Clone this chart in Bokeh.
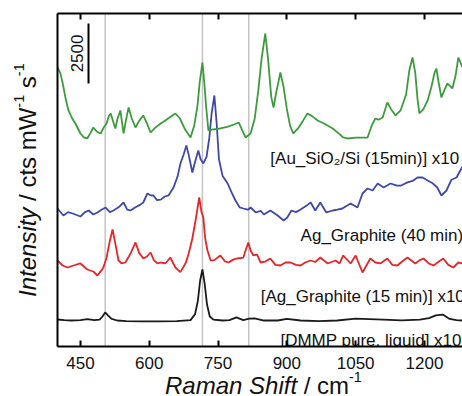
import math
from bokeh.plotting import figure
from bokeh.models import Range1d, LinearAxis, FixedTicker, Label, Div
from bokeh.layouts import row, column
from bokeh.core.properties import value
from bokeh.embed import file_html
from bokeh.resources import INLINE

FONT = "Liberation Sans"

x_ticks = [450, 600, 750, 900, 1050, 1200]
ref_lines = [504, 716, 817]
scale_value = 2500

dmmp_x = [400, 415, 430, 450, 465, 480, 492, 498, 504, 510, 518, 530, 550, 580, 620, 660, 690, 700, 706, 711, 716, 721, 726, 732, 740, 760, 775, 790, 805, 818, 830, 850, 880, 900, 930, 970, 1010, 1050, 1080, 1110, 1150, 1190, 1210, 1225, 1240, 1255, 1270, 1283]
dmmp_y = [1125, 1100, 1083, 1100, 1140, 1100, 1120, 1250, 1417, 1300, 1150, 1083, 1060, 1050, 1050, 1060, 1100, 1350, 1900, 2750, 3209, 2600, 1750, 1250, 1120, 1083, 1100, 1210, 1100, 1160, 1170, 1083, 1083, 1150, 1083, 1060, 1083, 1160, 1140, 1120, 1090, 1120, 1180, 1300, 1330, 1150, 1100, 1083]

ag15_x = [400, 411, 422, 435, 450, 465, 478, 487, 495, 500, 507, 513, 520, 526, 533, 540, 548, 560, 570, 578, 587, 595, 603, 610, 618, 625, 635, 646, 657, 668, 680, 686, 694, 701, 709, 714, 718, 722, 727, 734, 742, 755, 765, 773, 783, 792, 805, 810, 816, 821, 827, 835, 843, 853, 864, 875, 886, 897, 908, 920, 930, 940, 952, 962, 973, 989, 1006, 1015, 1023, 1039, 1050, 1065, 1082, 1093, 1104, 1119, 1130, 1141, 1152, 1163, 1180, 1190, 1198, 1210, 1220, 1230, 1241, 1252, 1263, 1274, 1283]
ag15_y = [3584, 3375, 3292, 3375, 3459, 3209, 3125, 2959, 3150, 3292, 3700, 4300, 4875, 4300, 3584, 3459, 3500, 3900, 4334, 3900, 3667, 3750, 3917, 3600, 3459, 3500, 3459, 3709, 3292, 3100, 3500, 3875, 4500, 5250, 6209, 5600, 5375, 4500, 4000, 3584, 3600, 3792, 3550, 3500, 3620, 3667, 3700, 4000, 4334, 4000, 3792, 3830, 3500, 3540, 3667, 3400, 3375, 3500, 3500, 3400, 3375, 3500, 3584, 3520, 3709, 3459, 3584, 3460, 3792, 3459, 3792, 3084, 3667, 3500, 3459, 3667, 3400, 3375, 3550, 3709, 3459, 3600, 3667, 3450, 3375, 3520, 3667, 3400, 3292, 3500, 3459]

ag40_x = [400, 413, 423, 433, 450, 460, 468, 478, 487, 496, 505, 514, 522, 533, 544, 552, 559, 570, 580, 587, 596, 603, 609, 617, 625, 634, 642, 653, 662, 668, 675, 681, 687, 694, 700, 707, 712, 718, 725, 731, 736, 742, 747, 752, 760, 771, 780, 788, 797, 805, 815, 821, 832, 843, 850, 864, 880, 893, 901, 910, 920, 930, 945, 952, 962, 973, 986, 1000, 1010, 1021, 1039, 1054, 1065, 1076, 1087, 1098, 1111, 1126, 1140, 1148, 1163, 1174, 1185, 1196, 1207, 1218, 1228, 1237, 1248, 1259, 1270, 1283]
ag40_y = [5750, 5459, 5600, 5542, 5417, 5600, 5667, 5500, 5584, 5700, 5792, 5600, 5667, 5800, 6000, 5700, 5667, 5800, 5900, 6000, 6375, 6300, 6292, 6100, 6120, 6250, 6292, 6625, 7100, 7626, 8000, 8376, 7900, 7251, 7700, 8167, 7800, 7626, 7900, 8700, 9700, 10459, 9300, 7800, 7100, 6792, 6400, 6084, 5800, 5750, 5700, 5792, 5584, 5650, 5500, 5667, 5459, 5250, 5375, 5667, 5600, 5709, 5900, 6000, 5667, 6000, 5584, 5667, 5700, 5750, 5959, 5792, 6375, 6584, 6500, 6792, 6625, 6792, 6700, 6700, 6840, 6900, 7042, 7042, 6917, 6800, 6625, 6292, 6500, 6950, 7042, 7500]

au_x = [400, 406, 411, 418, 424, 432, 439, 450, 458, 465, 472, 478, 486, 494, 500, 507, 512, 516, 521, 526, 531, 537, 541, 544, 549, 555, 562, 570, 578, 587, 595, 603, 612, 625, 635, 645, 657, 667, 678, 690, 698, 705, 710, 716, 720, 724, 729, 740, 755, 770, 785, 795, 803, 810, 821, 830, 838, 845, 853, 859, 866, 871, 877, 886, 893, 900, 907, 914, 925, 935, 945, 955, 967, 980, 1000, 1015, 1023, 1032, 1050, 1065, 1076, 1085, 1093, 1100, 1109, 1119, 1127, 1137, 1148, 1160, 1167, 1174, 1180, 1185, 1189, 1198, 1207, 1215, 1222, 1226, 1231, 1237, 1244, 1250, 1256, 1261, 1268, 1274, 1283]
au_y = [11626, 11400, 11000, 10300, 9834, 9500, 9292, 8876, 8700, 8667, 8900, 9126, 8950, 8876, 9100, 9292, 9600, 9709, 9400, 9084, 9500, 9834, 9300, 8876, 9400, 9959, 9500, 9126, 9400, 9626, 9300, 8917, 9100, 9292, 9417, 9550, 9709, 9500, 9050, 8709, 9200, 10000, 11000, 11834, 11000, 10000, 9001, 9050, 9084, 9150, 9250, 9334, 9000, 8709, 8876, 9500, 10700, 12000, 13042, 12000, 10400, 9959, 10600, 11417, 10800, 9900, 9200, 8876, 9100, 9400, 9709, 9600, 9417, 9300, 9084, 8850, 8709, 8667, 8700, 8700, 8709, 9200, 9501, 9450, 9542, 10167, 9900, 9626, 9834, 10500, 11500, 12042, 11400, 10300, 9709, 9900, 10251, 10800, 11400, 11584, 11000, 10376, 10700, 10959, 10850, 10751, 11300, 12042, 11626]

series_labels = ["[DMMP pure, liquid] x10", "[Ag_Graphite (15 min)] x10", "Ag_Graphite (40 min)", "[Au_SiO\u2082/Si (15min)] x10"]
colors = ["#1a1a1a", "#e3262a", "#3f48aa", "#3c9c3c"]

Y0, Y1 = 0, 13875
p = figure(width=406, height=376, output_backend="svg", toolbar_location=None,
           x_range=Range1d(400, 1283), y_range=Range1d(Y0, Y1),
           x_axis_location=None, y_axis_location=None,
           min_border_left=1, min_border_right=0, min_border_top=13, min_border_bottom=30)
p.outline_line_color = None
p.background_fill_color = "white"
p.border_fill_color = "white"
p.xgrid.visible = False
p.ygrid.visible = False

# reference (peak position) lines
p.segment(x0=ref_lines, y0=[Y0] * len(ref_lines), x1=ref_lines, y1=[Y1] * len(ref_lines),
          line_color="#c4c4c4", line_width=1.5)

bottom = LinearAxis(ticker=FixedTicker(ticks=x_ticks), major_tick_in=6, major_tick_out=0,
                    minor_tick_line_color=None, axis_line_width=2, major_tick_line_width=2,
                    major_label_text_font=FONT, major_label_text_font_size="17px",
                    major_label_standoff=10, major_label_text_color="#111111")
p.add_layout(bottom, "below")
top = LinearAxis(ticker=FixedTicker(ticks=x_ticks), major_tick_in=6, major_tick_out=0,
                 minor_tick_line_color=None, axis_line_width=2, major_tick_line_width=2,
                 major_label_text_font_size="0px", major_label_standoff=0)
p.add_layout(top, "above")
left = LinearAxis(ticker=FixedTicker(ticks=[]), major_tick_in=0, major_tick_out=0,
                  major_tick_line_color=None, minor_tick_line_color=None,
                  major_label_text_font_size="0px", major_label_standoff=0, axis_line_width=2)
p.add_layout(left, "left")

for xs, ys, c in [(dmmp_x, dmmp_y, colors[0]), (ag15_x, ag15_y, colors[1]), (ag40_x, ag40_y, colors[2]), (au_x, au_y, colors[3])]:
    p.line(xs, ys, line_color=c, line_width=1.8)

# series labels
label_pos = [(886, 250), (843, 2083), (930, 4625), (864, 7834)]
for (lx, ly), t in zip(label_pos, series_labels):
    p.text(x=[lx], y=[ly], text=[t], text_font=value(FONT), text_font_size="17px",
           text_color="#111111", text_baseline="alphabetic", text_align="left")

# scale bar
bar_x = 467.6
bar_y0 = 10960
p.segment(x0=[bar_x], y0=[bar_y0], x1=[bar_x], y1=[bar_y0 + scale_value], line_color="black", line_width=2)
p.add_layout(Label(x=443, y=bar_y0 + scale_value / 2, text=str(scale_value), angle=math.pi / 2,
                   text_align="center", text_baseline="alphabetic", text_font=FONT,
                   text_font_size="17px", text_color="#111111"))

# axis titles as HTML (mixed italic / superscript)
SUP = '<sup style="font-size:60%;vertical-align:12px;line-height:0">-1</sup>'
TXT = "font-family:'Liberation Sans';font-size:24px;color:#111;white-space:nowrap;"
ydiv = Div(width=56, height=376, margin=0,
           text=('<div style="position:relative;width:56px;height:376px;">'
                 '<div style="position:absolute;left:16px;top:297px;transform:rotate(-90deg);'
                 'transform-origin:0 0;line-height:1;' + TXT + '"><i>Intensity</i> / cts mW' + SUP + ' s' + SUP +
                 '</div></div>'))
xdiv = Div(width=462, height=20, margin=0,
           text=('<div style="position:relative;width:462px;height:20px;">'
                 '<div style="position:absolute;left:165px;top:0px;line-height:20px;' + TXT + '">'
                 '<i>Raman Shift</i> / cm' + SUP + '</div></div>'))

layout = column(row(ydiv, p, spacing=0), xdiv, spacing=0)

open("out.html", "w").write(file_html(layout, INLINE))
